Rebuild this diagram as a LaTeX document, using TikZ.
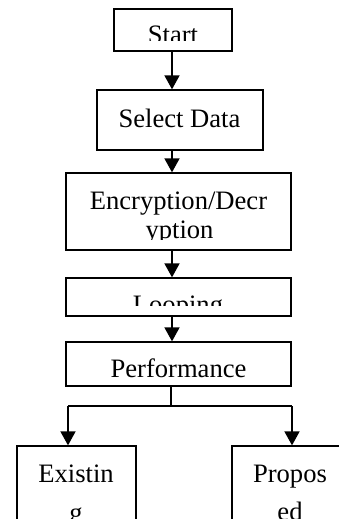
\documentclass[tikz,border=0pt]{standalone}
\usepackage{fontspec}
\setmainfont{Liberation Serif}
\usetikzlibrary{arrows.meta}
\tikzstyle{box} = [rectangle, draw=black, line width=1.3pt, inner sep=0pt]
\tikzstyle{txt} = [inner sep=0pt, anchor=base, font=\fontsize{26.6}{29}\selectfont]
\tikzstyle{arrow} = [line width=1.8pt, -{Triangle[width=15pt,length=14pt]}]
\tikzstyle{line} = [line width=1.8pt]
\begin{document}
\begin{tikzpicture}[x=1pt,y=-1pt]
      \useasboundingbox (0,0) rectangle (339,519);
      \clip (0,0) rectangle (339,519);
      %%%%%%%%%%%%%%%%%%%%%%%%%%%%%%%%%%%%%%%
      \draw (173,30) node (start) [box, minimum width=118pt, minimum height=42pt] {};
      \draw (180,120) node (select) [box, minimum width=166pt, minimum height=60pt] {};
      \draw (178.5,211.5) node (enc) [box, minimum width=225pt, minimum height=77pt] {};
      \draw (178.5,297) node (loop) [box, minimum width=225pt, minimum height=38pt] {};
      \draw (178.5,364) node (perf) [box, minimum width=225pt, minimum height=44pt] {};
      \draw (76.5,513) node (exist) [box, minimum width=119pt, minimum height=134pt] {};
      \draw (291.5,513) node (prop) [box, minimum width=119pt, minimum height=134pt] {};
      %% texts, cut off by the boxes
      \begin{scope}
      \clip (114,9) rectangle (232,41);
      \draw (173,44) node (startTxt) [txt] {Start};
      \end{scope}
      \draw (179.5,127) node (selectTxt) [txt] {Select Data};
      \draw (178.5,209) node (encTxtA) [txt] {Encryption/Decr};
      \begin{scope}
      \clip (66,173) rectangle (291,239.5);
      \draw (179.5,238) node (encTxtB) [txt] {yption};
      \end{scope}
      \begin{scope}
      \clip (66,278) rectangle (291,305);
      \draw (178,313) node (loopTxt) [txt] {Looping};
      \end{scope}
      \draw (178.5,377.5) node (perfTxt) [txt] {Performance};
      \draw (76,482) node (existTxtA) [txt] {Existin};
      \draw (76,521) node (existTxtB) [txt] {g};
      \draw (290,482) node (propTxtA) [txt] {Propos};
      \draw (290,520) node (propTxtB) [txt] {ed};
      %% connectors
      \coordinate (spine) at (172,0);
      \draw[arrow] (start.south -| spine) -- (select.north -| spine);
      \draw[arrow] (select.south -| spine) -- (enc.north -| spine);
      \draw[arrow] (enc.south -| spine) -- (loop.north -| spine);
      \draw[arrow] (loop.south -| spine) -- (perf.north -| spine);
      \coordinate (split) at (171,406);
      \coordinate (lftDrop) at (68,406);
      \coordinate (rgtDrop) at (292,406);
      \draw[line] (perf.south -| split) -- (split);
      \draw[line] (lftDrop) -- (rgtDrop);
      \draw[arrow] (lftDrop) -- (lftDrop |- exist.north);
      \draw[arrow] (rgtDrop) -- (rgtDrop |- prop.north);
\end{tikzpicture}
\end{document}
